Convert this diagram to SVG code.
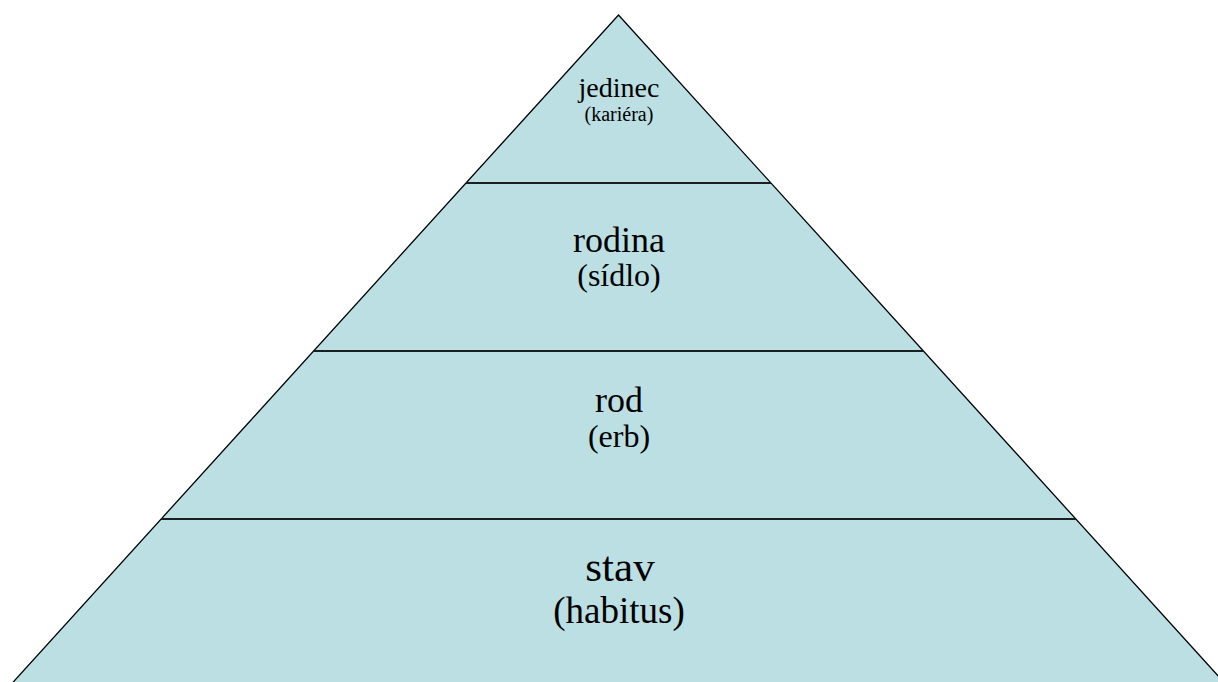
<svg xmlns="http://www.w3.org/2000/svg" width="1218" height="682" viewBox="0 0 1218 682">
  <style>
    .tier { fill: #BBDFE2; stroke: none; }
    .outline { fill: none; stroke: #000; stroke-width: 1.3; stroke-linejoin: miter; }
    .div { stroke: #1a1f1f; stroke-width: 2; }
    .lbl { font-family: "Liberation Serif", "Times New Roman", Times, "DejaVu Serif", serif; fill: #000; text-anchor: middle; }
  </style>
  <rect width="1218" height="682" fill="#fff"/>
  <g id="tier-jedinec">
    <polygon class="tier" points="618.5,15 771,183 466,183"/>
    <text class="lbl" x="619" y="97" font-size="28">jedinec</text>
    <text class="lbl" x="619" y="121" font-size="20">(kariéra)</text>
  </g>
  <g id="tier-rodina">
    <polygon class="tier" points="466,183 771,183 923.6,351 313.4,351"/>
    <text class="lbl" x="619" y="252" font-size="36">rodina</text>
    <text class="lbl" x="619" y="286" font-size="32">(sídlo)</text>
  </g>
  <g id="tier-rod">
    <polygon class="tier" points="313.4,351 923.6,351 1076,519 161,519"/>
    <text class="lbl" x="619" y="412" font-size="36">rod</text>
    <text class="lbl" x="619" y="447" font-size="32">(erb)</text>
  </g>
  <g id="tier-stav">
    <polygon class="tier" points="161,519 1076,519 1231,690 6,690"/>
    <text class="lbl" x="620" y="581" font-size="43">stav</text>
    <text class="lbl" x="619" y="623" font-size="37">(habitus)</text>
  </g>
  <g id="connectors">
    <polygon class="outline" points="618.5,15 1231,690 6,690"/>
    <line class="div" x1="466" y1="183" x2="771" y2="183"/>
    <line class="div" x1="313.4" y1="351" x2="923.6" y2="351"/>
    <line class="div" x1="161" y1="519" x2="1076" y2="519"/>
  </g>
</svg>
